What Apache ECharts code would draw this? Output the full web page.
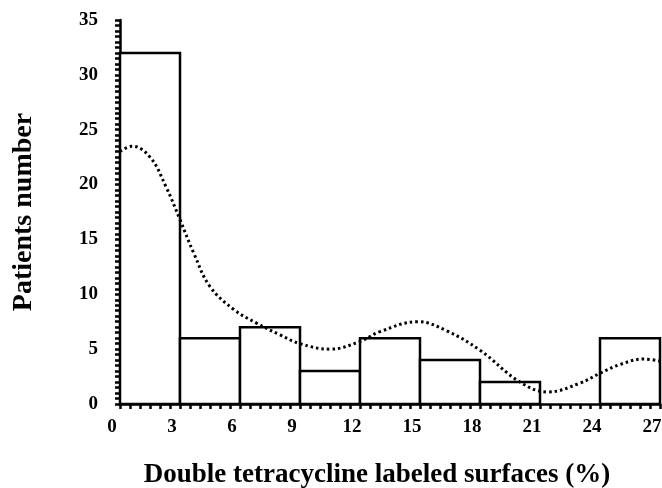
<!DOCTYPE html>
<html>
<head>
<meta charset="utf-8">
<script src="https://cdn.jsdelivr.net/npm/echarts@6/dist/echarts.min.js"></script>
<style>
html, body { margin: 0; padding: 0; background: #fff; }
#chart { width: 662px; height: 488px; }
</style>
</head>
<body>
<div id="chart"></div>
<script>
// histogram bins (%)
var binStart = [0, 3, 6, 9, 12, 15, 18, 21, 24];
var binEnd = [3, 6, 9, 12, 15, 18, 21, 24, 27];
var patients = [32, 6, 7, 3, 6, 4, 2, 0, 6];
// dotted fitted curve
var curveX = [0, 0.6, 1.5, 2.3, 3, 3.7, 4.5, 5.7, 6.8, 8, 9, 10.5, 12, 13, 14.9, 16.3, 18, 20, 21.4, 23, 24, 25, 26.2, 27];
var curveY = [23.0, 23.5, 22.5, 19.8, 16.8, 13.7, 10.7, 8.6, 7.4, 6.3, 5.5, 5.0, 5.7, 6.6, 7.5, 6.7, 4.9, 2.0, 1.1, 1.9, 2.8, 3.6, 4.1, 3.9];

var FONT = "'Liberation Serif', 'Times New Roman', serif";

var barData = [];
for (var i = 0; i < patients.length; i++) {
	barData.push([binStart[i], binEnd[i], patients[i]]);
}
var lineData = [];
for (var j = 0; j < curveX.length; j++) {
	lineData.push([curveX[j], curveY[j]]);
}

function renderBin(params, api) {
	var h = api.value(2);
	if (h <= 0) return null;
	var p0 = api.coord([api.value(0), 0]);
	var p1 = api.coord([api.value(1), h]);
	return {
		type: 'rect',
		shape: { x: p0[0], y: p1[1], width: p1[0] - p0[0], height: p0[1] - p1[1] },
		style: { fill: '#fff', stroke: '#000', lineWidth: 2.5 }
	};
}

var option = {
	animation: false,
	backgroundColor: '#fff',
	grid: { left: 120, right: 2, top: 20, bottom: 84, outerBoundsMode: 'none', containLabel: false },
	xAxis: {
		type: 'value',
		min: 0,
		max: 27,
		interval: 3,
		name: 'Double tetracycline labeled surfaces (%)',
		nameLocation: 'middle',
		nameGap: 58,
		nameTextStyle: { fontFamily: FONT, fontWeight: 'bold', fontSize: 27, color: '#000', padding: [0, 26, 0, 0] },
		splitLine: { show: false },
		axisLine: { show: true, lineStyle: { color: '#000', width: 2.5 } },
		axisTick: { show: true, length: 5, lineStyle: { color: '#000', width: 2.5 } },
		minorTick: { show: true, splitNumber: 6, length: 5, lineStyle: { color: '#000', width: 2.5 } },
		axisLabel: {
			margin: 14,
			padding: [0, 16, 0, 0],
			fontFamily: FONT, fontWeight: 'bold', fontSize: 19, color: '#000'
		}
	},
	yAxis: {
		type: 'value',
		min: 0,
		max: 35,
		interval: 5,
		name: 'Patients number',
		nameLocation: 'middle',
		nameGap: 82,
		nameTextStyle: { fontFamily: FONT, fontWeight: 'bold', fontSize: 28, color: '#000' },
		splitLine: { show: false },
		axisLine: { show: true, lineStyle: { color: '#000', width: 2.5 } },
		axisTick: { show: true, length: 5, lineStyle: { color: '#000', width: 2.5 } },
		minorTick: { show: true, splitNumber: 10, length: 5, lineStyle: { color: '#000', width: 2.5 } },
		axisLabel: { margin: 22, fontFamily: FONT, fontWeight: 'bold', fontSize: 19, color: '#000' }
	},
	series: [
		{
			type: 'custom',
			renderItem: renderBin,
			encode: { x: [0, 1], y: 2 },
			data: barData,
			z: 2
		},
		{
			type: 'line',
			data: lineData,
			smooth: 0.4,
			showSymbol: false,
			lineStyle: { color: '#000', width: 3, type: [2.5, 3] },
			z: 3
		}
	]
};

var myChart = echarts.init(document.getElementById('chart'));
myChart.setOption(option, true);
</script>
</body>
</html>
